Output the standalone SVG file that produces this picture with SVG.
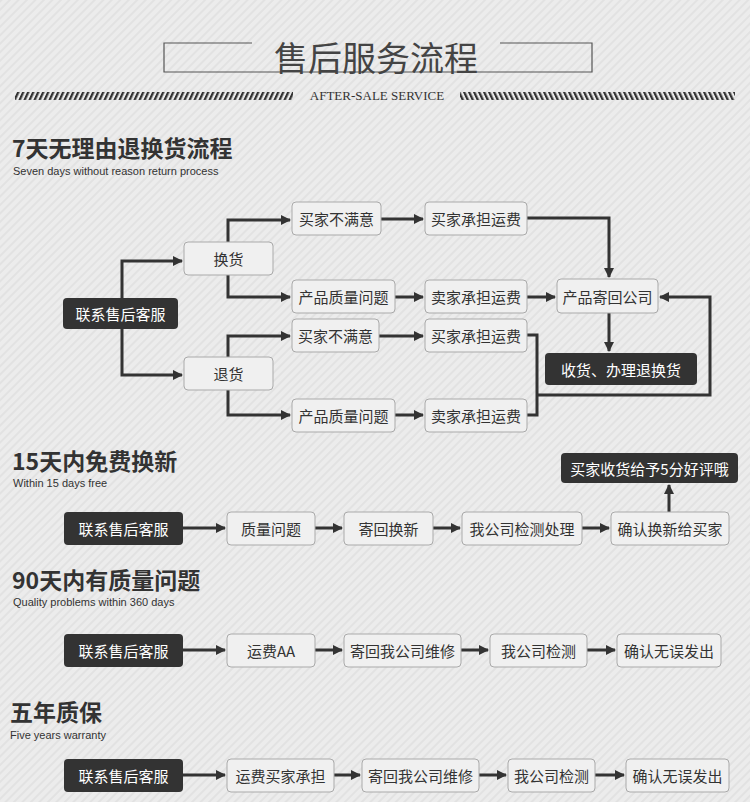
<svg xmlns="http://www.w3.org/2000/svg" width="750" height="802" viewBox="0 0 750 802">
<defs>
<pattern id="bg" width="6" height="6" patternUnits="userSpaceOnUse" patternTransform="rotate(45)">
<rect width="6" height="6" fill="#ececec"/><rect width="2" height="6" fill="#e2e2e2"/>
</pattern>
<pattern id="hatch" width="5" height="8" patternUnits="userSpaceOnUse" patternTransform="skewX(-25)">
<rect width="2.5" height="8" fill="#333"/>
</pattern>
<pattern id="hatch2" width="5" height="8" patternUnits="userSpaceOnUse" patternTransform="skewX(25)">
<rect width="2.5" height="8" fill="#333"/>
</pattern>
<marker id="ar" viewBox="0 0 10 10" refX="9" refY="5" markerWidth="10" markerHeight="10" markerUnits="userSpaceOnUse" orient="auto">
<path d="M0,0L10,5L0,10z" fill="#333"/>
</marker>
</defs>
<style>
.b{fill:#f0f0f0;stroke:#aaa;stroke-width:1}
.d{fill:#333;stroke:none}
.t{font-family:"Noto Sans CJK SC",sans-serif;font-size:15px;fill:#333;text-anchor:middle;dominant-baseline:central}
.w{fill:#fff}
.c{fill:none;stroke:#333;stroke-width:3}
.h{font-family:"Noto Sans CJK SC",sans-serif;font-size:23px;font-weight:bold;fill:#333}
.s{font-family:"Liberation Sans",Arial,sans-serif;font-size:11px;fill:#333}
</style>
<rect width="750" height="802" fill="url(#bg)"/>
<g id="header">
<path d="M252,43H164V72H592V43H500" fill="none" stroke="#555" stroke-width="1.2"/>
<text x="376" y="56" font-family="Noto Sans CJK SC,sans-serif" font-size="34" fill="#444" text-anchor="middle" dominant-baseline="central">售后服务流程</text>
<rect x="15" y="92" width="278" height="8" fill="url(#hatch)"/>
<rect x="460" y="92" width="275" height="8" fill="url(#hatch2)"/>
<text x="377" y="100" font-family="Liberation Serif,serif" font-size="13" fill="#333" text-anchor="middle">AFTER-SALE SERVICE</text>
</g>
<g id="titles">
<text class="h" x="12" y="157">7天无理由退换货流程</text>
<text class="s" x="13" y="175">Seven days without reason return process</text>
<text class="h" x="12" y="470" font-weight="normal">15天内免费换新</text>
<text class="s" x="13" y="487">Within 15 days free</text>
<text class="h" x="12" y="589" font-weight="normal">90天内有质量问题</text>
<text class="s" x="13" y="606">Quality problems within 360 days</text>
<text class="h" x="10" y="721">五年质保</text>
<text class="s" x="10" y="739">Five years warranty</text>
</g>
<g id="connectors" class="c">
<path d="M122,298V261H182" marker-end="url(#ar)"/>
<path d="M122,329V375H182" marker-end="url(#ar)"/>
<path d="M228,242V220H290" marker-end="url(#ar)"/>
<path d="M228,275V297H290" marker-end="url(#ar)"/>
<path d="M228,357V336H290" marker-end="url(#ar)"/>
<path d="M228,390V415H290" marker-end="url(#ar)"/>
<path d="M381,219H423" marker-end="url(#ar)"/>
<path d="M395,297H423" marker-end="url(#ar)"/>
<path d="M379,336H423" marker-end="url(#ar)"/>
<path d="M395,415H423" marker-end="url(#ar)"/>
<path d="M527,218H609V277" marker-end="url(#ar)"/>
<path d="M527,297H555" marker-end="url(#ar)"/>
<path d="M609,313V351" marker-end="url(#ar)"/>
<path d="M527,335H537V415H527"/>
<path d="M537,395H710V297H660" marker-end="url(#ar)"/>
<path d="M183,528H225" marker-end="url(#ar)"/>
<path d="M315,528H342" marker-end="url(#ar)"/>
<path d="M433,528H460" marker-end="url(#ar)"/>
<path d="M582,528H609" marker-end="url(#ar)"/>
<path d="M669,512V485" marker-end="url(#ar)"/>
<path d="M183,650H225" marker-end="url(#ar)"/>
<path d="M315,650H342" marker-end="url(#ar)"/>
<path d="M461,650H488" marker-end="url(#ar)"/>
<path d="M587,650H615" marker-end="url(#ar)"/>
<path d="M183,775H225" marker-end="url(#ar)"/>
<path d="M334,775H360" marker-end="url(#ar)"/>
<path d="M479,775H506" marker-end="url(#ar)"/>
<path d="M595,775H624" marker-end="url(#ar)"/>
</g>
<g id="n1"><rect class="d" x="63" y="298" width="115" height="31" rx="4"/><text class="t w" x="120.5" y="313.5">联系售后客服</text></g>
<g id="n2"><rect class="b" x="184" y="242" width="89" height="33" rx="4"/><text class="t" x="228.5" y="258.5">换货</text></g>
<g id="n3"><rect class="b" x="184" y="357" width="89" height="33" rx="4"/><text class="t" x="228.5" y="373.5">退货</text></g>
<g id="n4"><rect class="b" x="292" y="202" width="89" height="33" rx="4"/><text class="t" x="336.5" y="218.5">买家不满意</text></g>
<g id="n5"><rect class="b" x="292" y="280" width="103" height="33" rx="4"/><text class="t" x="343.5" y="296.5">产品质量问题</text></g>
<g id="n6"><rect class="b" x="292" y="319" width="87" height="33" rx="4"/><text class="t" x="335.5" y="335.5">买家不满意</text></g>
<g id="n7"><rect class="b" x="292" y="399" width="103" height="33" rx="4"/><text class="t" x="343.5" y="415.5">产品质量问题</text></g>
<g id="n8"><rect class="b" x="425" y="202" width="102" height="33" rx="4"/><text class="t" x="476" y="218.5">买家承担运费</text></g>
<g id="n9"><rect class="b" x="425" y="280" width="102" height="33" rx="4"/><text class="t" x="476" y="296.5">卖家承担运费</text></g>
<g id="n10"><rect class="b" x="425" y="319" width="102" height="33" rx="4"/><text class="t" x="476" y="335.5">买家承担运费</text></g>
<g id="n11"><rect class="b" x="425" y="399" width="102" height="33" rx="4"/><text class="t" x="476" y="415.5">卖家承担运费</text></g>
<g id="n12"><rect class="b" x="557" y="279" width="101" height="34" rx="4"/><text class="t" x="607.5" y="296">产品寄回公司</text></g>
<g id="n13"><rect class="d" x="545" y="353" width="152" height="32" rx="4"/><text class="t w" x="621" y="369" font-size="16">收货、办理退换货</text></g>
<g id="r2a"><rect class="d" x="64" y="512" width="119" height="33" rx="4"/><text class="t w" x="123.5" y="528.5">联系售后客服</text></g>
<g id="r2b"><rect class="b" x="227" y="512" width="88" height="33" rx="4"/><text class="t" x="271" y="528.5">质量问题</text></g>
<g id="r2c"><rect class="b" x="344" y="512" width="89" height="33" rx="4"/><text class="t" x="388.5" y="528.5">寄回换新</text></g>
<g id="r2d"><rect class="b" x="462" y="512" width="120" height="33" rx="4"/><text class="t" x="522" y="528.5">我公司检测处理</text></g>
<g id="r2e"><rect class="b" x="611" y="512" width="118" height="33" rx="4"/><text class="t" x="670" y="528.5">确认换新给买家</text></g>
<g id="r2f"><rect class="d" x="561" y="453" width="177" height="30" rx="4"/><text class="t w" x="649.5" y="468">买家收货给予5分好评哦</text></g>
<g id="r3a"><rect class="d" x="64" y="634" width="119" height="33" rx="4"/><text class="t w" x="123.5" y="650.5">联系售后客服</text></g>
<g id="r3b"><rect class="b" x="227" y="634" width="88" height="33" rx="4"/><text class="t" x="271" y="650.5">运费AA</text></g>
<g id="r3c"><rect class="b" x="344" y="634" width="117" height="33" rx="4"/><text class="t" x="402.5" y="650.5">寄回我公司维修</text></g>
<g id="r3d"><rect class="b" x="490" y="634" width="97" height="33" rx="4"/><text class="t" x="538.5" y="650.5">我公司检测</text></g>
<g id="r3e"><rect class="b" x="617" y="634" width="104" height="33" rx="4"/><text class="t" x="669" y="650.5">确认无误发出</text></g>
<g id="r4a"><rect class="d" x="64" y="759" width="119" height="33" rx="4"/><text class="t w" x="123.5" y="775.5">联系售后客服</text></g>
<g id="r4b"><rect class="b" x="227" y="759" width="107" height="33" rx="4"/><text class="t" x="280.5" y="775.5">运费买家承担</text></g>
<g id="r4c"><rect class="b" x="362" y="759" width="117" height="33" rx="4"/><text class="t" x="420.5" y="775.5">寄回我公司维修</text></g>
<g id="r4d"><rect class="b" x="508" y="759" width="87" height="33" rx="4"/><text class="t" x="551.5" y="775.5">我公司检测</text></g>
<g id="r4e"><rect class="b" x="626" y="759" width="103" height="33" rx="4"/><text class="t" x="677.5" y="775.5">确认无误发出</text></g>
</svg>
